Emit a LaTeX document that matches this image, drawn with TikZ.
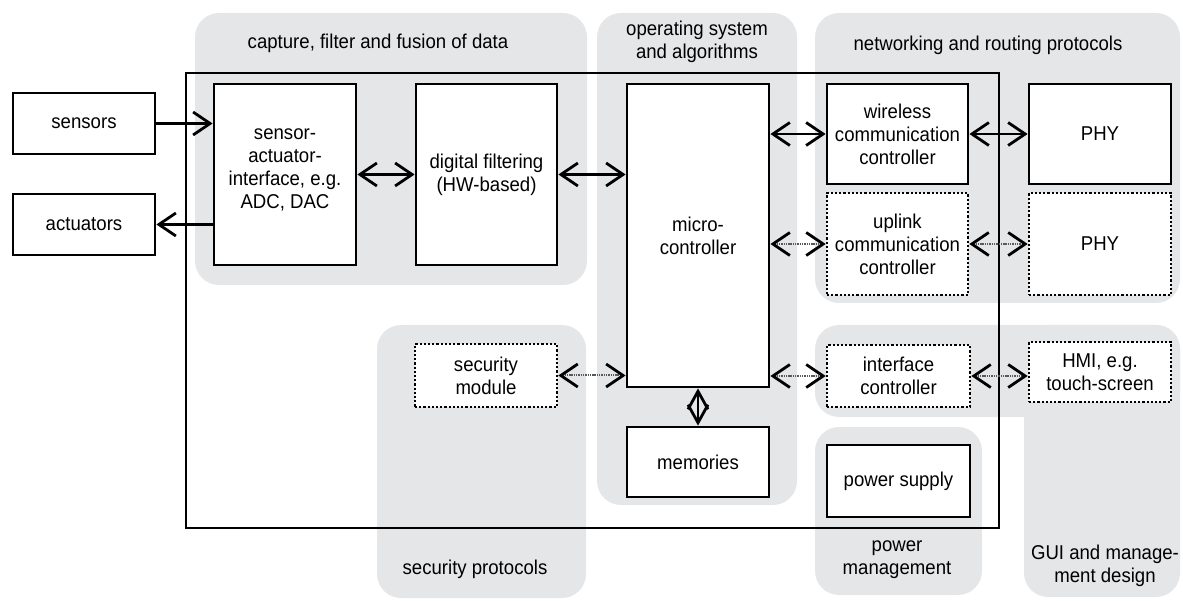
\documentclass[tikz,border=0pt]{standalone}
\usepackage{fontspec}
\setmainfont{Liberation Sans}[FakeStretch=0.93]
\usetikzlibrary{arrows.meta}
\definecolor{regiongray}{RGB}{229,230,232}
\begin{document}
\begin{tikzpicture}[x=1pt,y=-1pt,
  txt/.style={font=\fontsize{20}{23}\selectfont},
  region/.style={fill=regiongray, rounded corners=24pt},
  title/.style={txt, align=center, inner sep=0},
  blk/.style={txt, draw, line width=2.8pt, fill=white, align=center, inner sep=0,
              minimum width=142pt},
  dotblk/.style={blk, line width=2.6pt, dash pattern=on 2.2pt off 2pt},
  link/.style={line width=2.8pt, {Straight Barb[length=17pt,width=23pt]}-{Straight Barb[length=17pt,width=23pt]}},
  onelink/.style={line width=2.8pt, -{Straight Barb[length=17pt,width=23pt]}},
  dlink/.style={line width=2pt, draw=black!65, dash pattern=on 1.4pt off 0.9pt,
                {Straight Barb[length=17pt,width=23pt,line width=2.8pt,color=black]}-{Straight Barb[length=17pt,width=23pt,line width=2.8pt,color=black]}},
  memlink/.style={line width=2.8pt, {Straight Barb[length=18pt,width=20pt]}-{Straight Barb[length=18pt,width=20pt]}}
]
\useasboundingbox (0,0) rectangle (1183,601);

% shaded areas of concern
\fill[region] (195,13) rectangle (587,285);
\fill[region] (597,13) rectangle (797,505);
\fill[region] (815,13) rectangle (1180,303);
\fill[region] (377,325) rectangle (586,598);
\fill[region] (815,427) rectangle (982,595);
\fill[region] (815,325) rectangle (1180,417);
\fill[region] (1024,325) rectangle (1180,597);

% area titles
\node[title] (tcap) at (378,43) {capture, filter and fusion of data};
\node[title] (tos) at (697,41.5) {operating system\\and algorithms};
\node[title] (tnet) at (988,45) {networking and routing protocols};
\node[title] (tsec) at (475,569) {security protocols};
\node[title] (tpow) at (897,559.5) {power\\management};
\node[title] (tgui) at (1105,566) {GUI and manage-\\ment design};

% device boundary
\draw[line width=2.8pt] (186,73) rectangle (999,528);

% blocks
\node[blk, minimum height=61pt] (sensors) at (84,123.5) {sensors};
\node[blk, minimum height=61pt] (actuators) at (84,224.5) {actuators};
\node[blk, minimum height=181pt] (sai) at (285,174.5) {sensor-\\actuator-\\interface, e.g.\\ADC, DAC\\[-12pt]};
\node[blk, minimum width=141pt, minimum height=181pt] (df) at (486.5,174.5) {digital filtering\\(HW-based)};
\node[blk, minimum height=303pt] (mc) at (698,235.5) {micro-\\controller};
\node[blk, minimum height=70pt] (mem) at (698,462) {memories};
\node[blk, minimum width=141pt, minimum height=100pt] (wcc) at (897.5,134) {wireless\\communication\\controller};
\node[blk, minimum height=100pt] (phya) at (1100,134) {PHY};
\node[dotblk, minimum width=141pt, minimum height=102pt] (ucc) at (897.5,244) {uplink\\communication\\controller};
\node[dotblk, minimum height=102pt] (phyb) at (1100,244) {PHY};
\node[dotblk, minimum height=63pt] (sec) at (486,375.5) {security\\module};
\node[dotblk, minimum width=143pt, minimum height=62pt] (ifc) at (898.5,376) {interface\\controller};
\node[dotblk, minimum height=60pt] (hmi) at (1100,372) {HMI, e.g.\\touch-screen};
\node[blk, minimum width=143pt, minimum height=72pt] (psu) at (898.5,481) {power supply};

% connections
\draw[onelink] (sensors.east) -- (sensors.east -| sai.west);
\draw[onelink] (actuators.east -| sai.west) -- (actuators.east);
\draw[link] (sai.east) -- (df.west);
\draw[link] (df.east) -- (df.east -| mc.west);
\draw[link] (wcc.west -| mc.east) -- (wcc.west);
\draw[link] (wcc.east) -- (phya.west);
\draw[dlink] (ucc.west -| mc.east) -- (ucc.west);
\draw[dlink] (ucc.east) -- (phyb.west);
\draw[dlink] (sec.east) -- (sec.east -| mc.west);
\draw[dlink] (ifc.west -| mc.east) -- (ifc.west);
\draw[dlink] (ifc.east) -- (ifc.east -| hmi.west);
\draw[memlink] (mc.south) -- (mem.north);
\end{tikzpicture}
\end{document}
